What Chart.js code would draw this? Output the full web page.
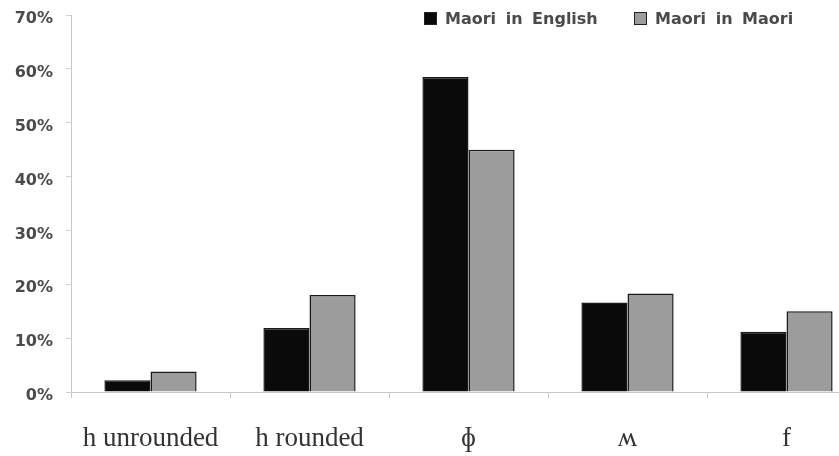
<!DOCTYPE html>
<html>
<head>
<meta charset="utf-8">
<script src="https://cdn.jsdelivr.net/npm/chart.js@4.4.1/dist/chart.umd.min.js"></script>
<style>
  html, body { margin: 0; padding: 0; background: #fff; overflow: hidden; }
  #wrap { position: relative; width: 839px; height: 456px; overflow: hidden; }
  #chart { position: absolute; left: 0; top: 0; }
  .legend-item { position: absolute; top: 9px; height: 18px; display: flex; align-items: center;
    font: bold 16px "DejaVu Sans", sans-serif; color: #4a4a4a; word-spacing: 4px; white-space: nowrap; }
  .legend-box { width: 11px; height: 11px; border: 1px solid #222; margin-right: 8px; }
</style>
</head>
<body>
<div id="wrap">
  <canvas id="chart" width="870" height="456"></canvas>
</div>
<script>
// Chart data
const categories = ['h unrounded', 'h rounded', 'ɸ', 'ʍ', 'f'];
const seriesNames = ['Maori in English', 'Maori in Maori'];
const maoriInEnglish = [2.2, 11.9, 58.5, 16.6, 11.2];
const maoriInMaori = [3.8, 18.0, 45.0, 18.3, 15.0];
const yTicks = [0, 10, 20, 30, 40, 50, 60, 70];

const seriesColors = ['#0a0a0a', '#9c9c9c'];
const legendLeft = [424, 634];

// Legend drawn as html, top right over the plot
seriesNames.forEach((name, i) => {
  const item = document.createElement('div');
  item.className = 'legend-item';
  item.style.left = legendLeft[i] + 'px';
  const box = document.createElement('span');
  box.className = 'legend-box';
  box.style.background = seriesColors[i];
  item.appendChild(box);
  item.appendChild(document.createTextNode(name));
  document.getElementById('wrap').appendChild(item);
});

new Chart(document.getElementById('chart'), {
  type: 'bar',
  data: {
    labels: categories,
    datasets: [
      { label: seriesNames[0], data: maoriInEnglish, backgroundColor: seriesColors[0] },
      { label: seriesNames[1], data: maoriInMaori, backgroundColor: seriesColors[1] }
    ]
  },
  options: {
    responsive: false,
    devicePixelRatio: 1,
    animation: false,
    layout: { padding: { top: 15, right: 4, bottom: 0, left: 0 } },
    datasets: {
      bar: {
        categoryPercentage: 0.58,
        barPercentage: 1,
        borderColor: '#1a1a1a',
        borderWidth: 1.5
      }
    },
    plugins: {
      legend: { display: false },
      tooltip: { enabled: false }
    },
    scales: {
      x: {
        grid: { drawOnChartArea: false, tickLength: 6, color: '#c8c8c8' },
        border: { color: '#c8c8c8' },
        ticks: {
          padding: 25,
          color: '#333',
          font: { family: '"Liberation Serif", "Times New Roman", serif', size: 27 }
        },
        afterFit: s => { s.height = 64; }
      },
      y: {
        min: 0,
        max: 70,
        grid: { drawOnChartArea: false, tickLength: 5, color: '#d0d0d0' },
        border: { color: '#c8c8c8' },
        afterBuildTicks: s => { s.ticks = yTicks.map(v => ({ value: v })); },
        ticks: {
          padding: 13,
          labelOffset: 4,
          color: '#4a4a4a',
          font: { family: '"DejaVu Sans", sans-serif', size: 16, weight: 'bold' },
          callback: v => v + '%'
        },
        afterFit: s => { s.width = 71; s.paddingTop = 0; s.paddingBottom = 0; }
      }
    }
  }
});
</script>
</body>
</html>
